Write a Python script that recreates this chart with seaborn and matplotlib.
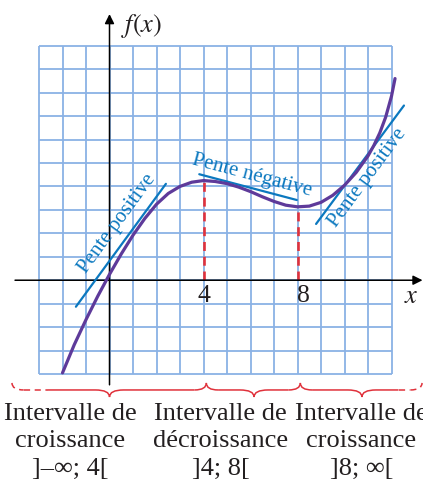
import numpy as np
import pandas as pd
import matplotlib
matplotlib.use("Agg")
import matplotlib.pyplot as plt
from matplotlib.path import Path
from matplotlib.patches import PathPatch
import seaborn as sns

sns.set_theme(style="white")
plt.rcParams["font.family"] = ["Liberation Serif", "DejaVu Serif"]
plt.rcParams["mathtext.fontset"] = "stix"

# ---- data ---------------------------------------------------------------
curve_x = [-2.0, -1.5, -1.0, -0.5, 0.0, 0.5, 1.0, 1.5, 2.0, 2.5, 3.0, 3.5,
           4.0, 4.5, 5.0, 5.5, 6.0, 6.5, 7.0, 7.5, 8.0, 8.5, 9.0, 9.5,
           10.0, 10.5, 11.0, 11.25, 11.5, 11.75, 12.0, 12.15]
curve_y = [-3.95, -2.75, -1.68, -0.68, 0.25, 1.12, 1.92, 2.63, 3.24, 3.70,
           4.00, 4.18, 4.25, 4.21, 4.12, 3.97, 3.78, 3.56, 3.36, 3.20,
           3.13, 3.16, 3.32, 3.62, 4.05, 4.60, 5.30, 5.75, 6.28, 6.95,
           7.85, 8.60]

# tangent segments (start/end of each)
tangent_x = [[-1.43, 2.40], [3.82, 7.97], [8.79, 12.53]]
tangent_y = [[-1.13, 4.11], [4.52, 3.42], [2.40, 7.45]]
tangent_labels = ["Pente positive", "Pente négative", "Pente positive"]
tangent_label_pos = [(0.32, 2.43), (6.08, 4.46), (11.0, 4.38)]

# turning points
turning_x = [4, 8]
turning_labels = ["4", "8"]

# intervals shown under the graph
interval_lines = [
    ["Intervalle de", "croissance", "]–∞; 4["],
    ["Intervalle de", "décroissance", "]4; 8["],
    ["Intervalle de", "croissance", "]8; ∞["],
]
interval_centers = [-1.68, 4.72, 10.72]
brace_starts = [-4.15, 4.12, 8.12]
brace_ends = [4.12, 8.12, 13.3]
brace_tips = [0.0, 6.15, 10.74]

grid_x = np.arange(-3, 13)
grid_y = np.arange(-4, 11)

# ---- colours ------------------------------------------------------------
GRID = "#8ab2e5"
PURPLE = "#5e3a9a"
BLUE = "#0b78bf"
RED = "#e0313b"
INK = "#231f20"

fig = plt.figure(figsize=(4.23, 4.84), dpi=100)
ax = fig.add_axes([0, 0, 1, 1])
ax.set_xlim(-4.66, 13.34)
ax.set_ylim(-8.69, 11.95)
ax.axis("off")

# square grid
ax.vlines(grid_x, grid_y[0], grid_y[-1], color=GRID, lw=1.3, zorder=1)
ax.hlines(grid_y, grid_x[0], grid_x[-1], color=GRID, lw=1.3, zorder=1)

# axes with arrow heads
ax.annotate("", xy=(13.32, 0), xytext=(-4.02, 0),
            arrowprops=dict(arrowstyle="-|>", color="black", lw=1.1,
                            mutation_scale=14, shrinkA=0, shrinkB=0), zorder=3)
ax.annotate("", xy=(0, 11.35), xytext=(0, -4.46),
            arrowprops=dict(arrowstyle="-|>", color="black", lw=1.1,
                            mutation_scale=14, shrinkA=0, shrinkB=0), zorder=3)
ax.text(1.35, 10.85, "$f(x)$", fontsize=19, color=INK, ha="center", va="center")
ax.text(12.85, -0.7, "$x$", fontsize=19, color=INK, ha="center", va="center")

# dashed markers at the turning points
curve = pd.DataFrame({"x": curve_x, "y": curve_y})
for xv in turning_x:
    top = curve.loc[curve["x"] == xv, "y"].iloc[0]
    ax.plot([xv, xv], [0, top], color=RED, lw=1.9, ls=(0, (3.4, 2.2)), zorder=2)
ax.text(4.0, -0.67, turning_labels[0], fontsize=18.5, color=INK, ha="center", va="center")
ax.text(8.26, -0.67, turning_labels[1], fontsize=18.5, color=INK, ha="center", va="center")

# tangent lines
tan_df = pd.DataFrame({
    "x": [v for seg in tangent_x for v in seg],
    "y": [v for seg in tangent_y for v in seg],
    "seg": [i for i in range(len(tangent_x)) for _ in range(2)],
})
sns.lineplot(data=tan_df, x="x", y="y", units="seg", estimator=None, sort=False,
             color=BLUE, lw=1.6, ax=ax, zorder=4)

# the function
sns.lineplot(data=curve, x="x", y="y", sort=False, estimator=None,
             color=PURPLE, lw=2.3, ax=ax, zorder=5)
ax.set_xlabel("")
ax.set_ylabel("")

for (xs, ys), label, (lx, ly) in zip(zip(tangent_x, tangent_y), tangent_labels, tangent_label_pos):
    ang = np.degrees(np.arctan2(ys[1] - ys[0], xs[1] - xs[0]))
    ax.text(lx, ly, label, fontsize=15, color=BLUE, rotation=ang,
            rotation_mode="anchor", ha="center", va="center", zorder=6)

# braces under the grid
Y_TOP, Y_MID, Y_TIP = -4.38, -4.68, -4.98
R_END, R_TIP = 0.5, 0.6


def brace_pieces(x0, x1, xt):
    """Return a list of (vertices, codes) pieces from left to right."""
    left = ([(x0, Y_TOP), (x0, Y_MID), (x0 + R_END, Y_MID)],
            [Path.MOVETO, Path.CURVE3, Path.CURVE3])
    mid = ([(x0 + R_END, Y_MID), (xt - R_TIP, Y_MID), (xt, Y_MID), (xt, Y_TIP),
            (xt, Y_MID), (xt + R_TIP, Y_MID), (x1 - R_END, Y_MID)],
           [Path.MOVETO, Path.LINETO, Path.CURVE3, Path.CURVE3,
            Path.CURVE3, Path.CURVE3, Path.LINETO])
    right = ([(x1 - R_END, Y_MID), (x1, Y_MID), (x1, Y_TOP)],
             [Path.MOVETO, Path.CURVE3, Path.CURVE3])
    return left, mid, right


def add(verts, codes, dashed=False):
    ls = (0, (4, 3)) if dashed else "-"
    ax.add_patch(PathPatch(Path(verts, codes), fill=False, edgecolor=RED,
                           lw=1.1, ls=ls, capstyle="butt", clip_on=False))


for i, (x0, x1, xt) in enumerate(zip(brace_starts, brace_ends, brace_tips)):
    left, mid, right = brace_pieces(x0, x1, xt)
    if i == 0:
        add(*left, dashed=True)
        cut = -2.62
        add([(x0 + R_END, Y_MID), (cut, Y_MID)], [Path.MOVETO, Path.LINETO], dashed=True)
        v, c = mid
        add([(cut, Y_MID)] + v[1:], [Path.MOVETO] + c[1:])
        add(*right)
    elif i == len(brace_starts) - 1:
        add(*left)
        cut = 12.3
        v, c = mid
        add(v[:-1] + [(cut, Y_MID)], c)
        add([(cut, Y_MID), (x1 - R_END, Y_MID)], [Path.MOVETO, Path.LINETO], dashed=True)
        add(*right, dashed=True)
    else:
        add(*left)
        add(*mid)
        add(*right)

line_baselines = [-5.96, -7.12, -8.32]
for cx, lines in zip(interval_centers, interval_lines):
    for yb, txt in zip(line_baselines, lines):
        ax.text(cx, yb, txt, fontsize=19, color=INK, ha="center", va="baseline")

fig.savefig("out.png", dpi=100)
